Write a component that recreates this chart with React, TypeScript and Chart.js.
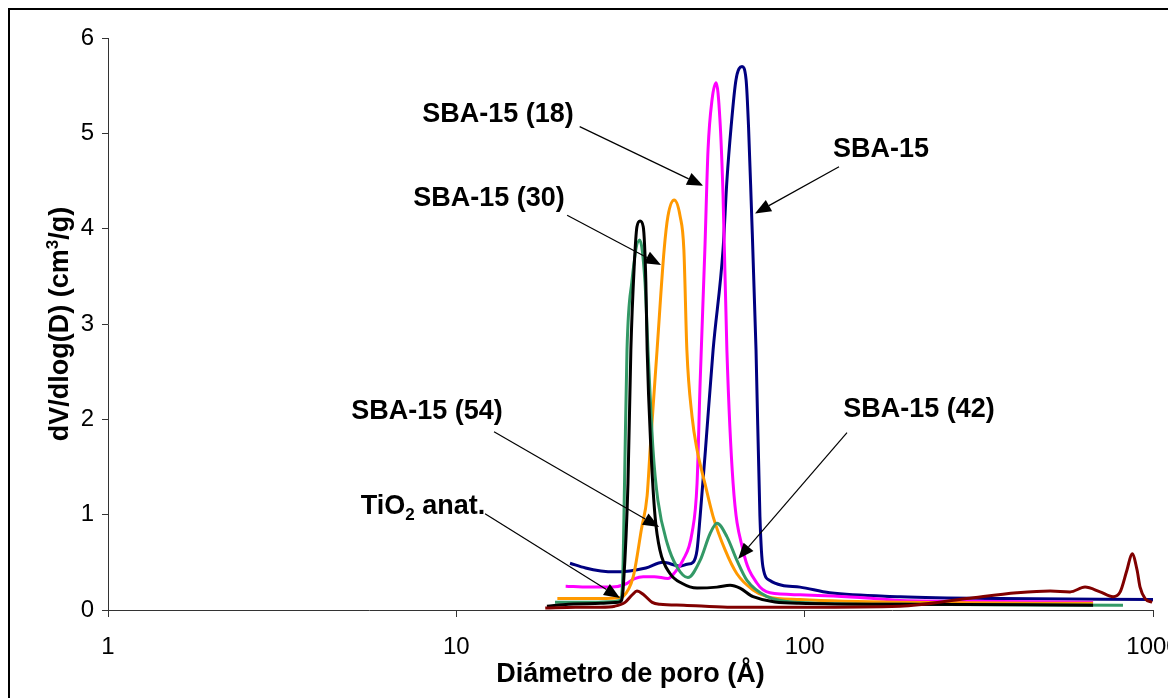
import React, { useEffect, useRef } from "react";
import { Chart, registerables } from "chart.js";

Chart.register(...registerables);

// Pore size distributions: pore diameter D (Å) and dV/dlog(D) (cm³/g)
const sba15D = [21.2, 23.5, 26, 28.5, 31.5, 35, 39.2, 43.9, 46, 47.8, 49.1, 50.1, 51.9, 54.6, 58.3, 59.8, 61.5, 63.5, 66.1, 67.9, 69.0, 70.2, 72.5, 74.4, 75.9, 79.5, 86, 97, 118, 188, 364, 1000];
const sba15V = [0.49, 0.44, 0.41, 0.40, 0.41, 0.44, 0.50, 0.46, 0.48, 0.50, 0.63, 0.98, 1.68, 2.73, 3.78, 4.50, 5.07, 5.56, 5.70, 5.56, 5.07, 4.30, 2.73, 0.98, 0.45, 0.31, 0.26, 0.24, 0.18, 0.14, 0.12, 0.11];

const sba18D = [20.6, 24, 28, 30.5, 32.5, 34.4, 37, 40.5, 42.5, 44.7, 47.5, 49.1, 50.1, 51.7, 52.8, 54.2, 55.7, 57.1, 58.3, 59.8, 62.3, 66.5, 73.0, 79.5, 97, 144, 188, 364, 673];
const sba18V = [0.25, 0.24, 0.24, 0.27, 0.33, 0.35, 0.35, 0.33, 0.40, 0.52, 0.81, 1.33, 2.38, 3.78, 4.83, 5.35, 5.53, 5.15, 4.35, 2.73, 1.33, 0.63, 0.28, 0.18, 0.16, 0.13, 0.10, 0.09, 0.08];

const sba30D = [19.5, 22, 26, 29.5, 30.1, 32.2, 34.0, 35.3, 36.0, 37.7, 39.5, 40.5, 42.2, 43.9, 45.0, 45.9, 47.5, 49.1, 51.7, 54.6, 59.1, 63.9, 71.1, 78, 97, 188, 673];
const sba30V = [0.12, 0.12, 0.12, 0.13, 0.14, 0.35, 0.85, 1.2, 1.68, 2.73, 3.78, 4.13, 4.30, 4.13, 3.78, 2.73, 2.03, 1.68, 1.33, 0.98, 0.63, 0.38, 0.21, 0.14, 0.11, 0.08, 0.07];

const sba42D = [19.2, 24, 28.5, 29.5, 30.0, 30.4, 30.9, 31.9, 33.6, 34.8, 35.5, 36.7, 37.9, 40.3, 43.0, 46.2, 50.1, 53.5, 56.0, 59.8, 63.9, 68.3, 78, 97, 188, 820];
const sba42V = [0.08, 0.08, 0.09, 0.10, 0.28, 1.33, 2.73, 3.44, 3.88, 3.44, 2.73, 1.68, 1.15, 0.70, 0.45, 0.34, 0.52, 0.80, 0.91, 0.77, 0.52, 0.31, 0.14, 0.08, 0.06, 0.05];

const sba54D = [18.2, 21, 26, 29.2, 29.8, 30.2, 31.1, 31.7, 32.4, 33.0, 33.7, 34.4, 35.0, 35.3, 36.2, 37.2, 38.4, 41.1, 44.4, 49.1, 56.0, 61.1, 65.2, 71.1, 96, 188, 673];
const sba54V = [0.04, 0.06, 0.07, 0.08, 0.10, 0.28, 1.33, 2.73, 3.60, 4.02, 4.08, 4.02, 3.44, 2.73, 1.68, 0.98, 0.63, 0.38, 0.28, 0.23, 0.24, 0.26, 0.23, 0.14, 0.07, 0.06, 0.05];

const tio2D = [18.0, 22, 26, 28.5, 30.5, 32, 33.0, 34.5, 36.5, 38.4, 45, 60, 100, 188, 292, 407, 507, 578, 638, 705, 768, 805, 842, 871, 900, 918, 949, 994];
const tio2V = [0.02, 0.03, 0.03, 0.04, 0.08, 0.16, 0.20, 0.16, 0.08, 0.06, 0.05, 0.03, 0.03, 0.04, 0.12, 0.18, 0.20, 0.19, 0.24, 0.19, 0.14, 0.19, 0.42, 0.59, 0.42, 0.24, 0.12, 0.08];

const xTickValues = [1, 10, 100, 1000];
const yTickStep = 1;

const xTitle = "Diámetro de poro (Å)";

const FONT = '"Liberation Sans", Arial, Helvetica, sans-serif';
const LABEL_SIZE = 27;

type Seg = { text: string; scale: number; dy: number };

// Callout labels: text position, arrow start and arrow tip, all in data units (D, dV/dlogD)
const callouts: { segs: Seg[]; text: [number, number]; from: [number, number]; to: [number, number] }[] = [
  { segs: [{ text: "SBA-15 (18)", scale: 1, dy: 0 }], text: [13.17, 5.22], from: [22.6, 5.07], to: [51.1, 4.45] },
  { segs: [{ text: "SBA-15", scale: 1, dy: 0 }], text: [165.7, 4.85], from: [125.5, 4.65], to: [72.0, 4.16] },
  { segs: [{ text: "SBA-15 (30)", scale: 1, dy: 0 }], text: [12.41, 4.34], from: [20.8, 4.14], to: [38.7, 3.62] },
  { segs: [{ text: "SBA-15 (54)", scale: 1, dy: 0 }], text: [8.24, 2.1], from: [12.83, 1.87], to: [38.2, 0.87] },
  { segs: [{ text: "SBA-15 (42)", scale: 1, dy: 0 }], text: [213, 2.13], from: [132.3, 1.86], to: [64.4, 0.535] },
  {
    segs: [
      { text: "TiO", scale: 1, dy: 0 },
      { text: "2", scale: 0.62, dy: 6 },
      { text: " anat.", scale: 1, dy: 0 },
    ],
    text: [8.02, 1.11],
    from: [12.09, 1.01],
    to: [29.5, 0.126],
  },
];

const yTitleSegs: Seg[] = [
  { text: "dV/dlog(D) (cm", scale: 1, dy: 0 },
  { text: "3", scale: 0.62, dy: -10 },
  { text: "/g)", scale: 1, dy: 0 },
];

function drawSegs(ctx: CanvasRenderingContext2D, segs: Seg[], cx: number, baseline: number, size: number, rotation: number) {
  ctx.save();
  ctx.translate(cx, baseline);
  ctx.rotate(rotation);
  ctx.textAlign = "left";
  ctx.textBaseline = "alphabetic";
  ctx.fillStyle = "#000";
  const widths = segs.map((s) => {
    ctx.font = `bold ${Math.round(size * s.scale)}px ${FONT}`;
    return ctx.measureText(s.text).width;
  });
  const total = widths.reduce((a, b) => a + b, 0);
  let x = -total / 2;
  segs.forEach((s, i) => {
    ctx.font = `bold ${Math.round(size * s.scale)}px ${FONT}`;
    ctx.fillText(s.text, x, s.dy);
    x += widths[i];
  });
  ctx.restore();
}

function drawArrow(ctx: CanvasRenderingContext2D, x1: number, y1: number, x2: number, y2: number) {
  const ang = Math.atan2(y2 - y1, x2 - x1);
  const len = 16;
  const half = 6.5;
  const bx = x2 - len * Math.cos(ang);
  const by = y2 - len * Math.sin(ang);
  ctx.save();
  ctx.strokeStyle = "#000";
  ctx.fillStyle = "#000";
  ctx.lineWidth = 1.2;
  ctx.beginPath();
  ctx.moveTo(x1, y1);
  ctx.lineTo(bx, by);
  ctx.stroke();
  ctx.beginPath();
  ctx.moveTo(x2, y2);
  ctx.lineTo(bx + half * Math.sin(ang), by - half * Math.cos(ang));
  ctx.lineTo(bx - half * Math.sin(ang), by + half * Math.cos(ang));
  ctx.closePath();
  ctx.fill();
  ctx.restore();
}

const overlayPlugin = {
  id: "calloutsAndTitles",
  afterDatasetsDraw(chart: any) {
    const { ctx, scales, chartArea } = chart;
    const xs = scales.x;
    const ys = scales.y;
    const capHalf = (LABEL_SIZE * 0.716) / 2;
    callouts.forEach((c) => {
      drawArrow(
        ctx,
        xs.getPixelForValue(c.from[0]),
        ys.getPixelForValue(c.from[1]),
        xs.getPixelForValue(c.to[0]),
        ys.getPixelForValue(c.to[1])
      );
      drawSegs(ctx, c.segs, xs.getPixelForValue(c.text[0]), ys.getPixelForValue(c.text[1]) + capHalf, LABEL_SIZE, 0);
    });
    const midX = (chartArea.left + chartArea.right) / 2;
    const midY = (chartArea.top + chartArea.bottom) / 2;
    drawSegs(ctx, [{ text: xTitle, scale: 1, dy: 0 }], midX, chartArea.bottom + 72, LABEL_SIZE, 0);
    ctx.save();
    ctx.translate(58, midY);
    drawSegs(ctx, yTitleSegs, 0, 0, LABEL_SIZE, -Math.PI / 2);
    ctx.restore();
  },
};

function pairs(xs: number[], ys: number[]) {
  return xs.map((x, i) => ({ x, y: ys[i] }));
}

export default function App() {
  const canvasRef = useRef<HTMLCanvasElement | null>(null);

  useEffect(() => {
    document.documentElement.style.overflow = "hidden";
    document.body.style.overflow = "hidden";
    const canvas = canvasRef.current;
    if (!canvas) return;

    const series = [
      { label: "TiO2 anat.", data: pairs(tio2D, tio2V), borderColor: "#800000" },
      { label: "SBA-15 (54)", data: pairs(sba54D, sba54V), borderColor: "#000000" },
      { label: "SBA-15 (42)", data: pairs(sba42D, sba42V), borderColor: "#339966" },
      { label: "SBA-15 (30)", data: pairs(sba30D, sba30V), borderColor: "#FF9900" },
      { label: "SBA-15 (18)", data: pairs(sba18D, sba18V), borderColor: "#FF00FF" },
      { label: "SBA-15", data: pairs(sba15D, sba15V), borderColor: "#000080" },
    ].map((d) => ({
      ...d,
      borderWidth: 3,
      pointRadius: 0,
      fill: false,
      cubicInterpolationMode: "monotone" as const,
    }));

    const tickFont = { family: FONT, size: 24 };

    const chart = new Chart(canvas, {
      type: "line",
      data: { datasets: series },
      options: {
        animation: false,
        responsive: false,
        layout: { padding: { top: 28, right: 23, left: 0, bottom: 0 } },
        plugins: { legend: { display: false }, tooltip: { enabled: false } },
        scales: {
          x: {
            type: "logarithmic",
            min: 1,
            max: 1000,
            afterBuildTicks: (scale: any) => {
              scale.ticks = xTickValues.map((v) => ({ value: v }));
            },
            afterFit: (scale: any) => {
              scale.height = 88;
              scale.paddingLeft = 0;
              scale.paddingRight = 0;
            },
            ticks: {
              callback: (v: any) => String(v),
              font: tickFont,
              color: "#000",
              padding: 16,
              maxRotation: 0,
              autoSkip: false,
            },
            grid: { drawOnChartArea: false, drawTicks: true, tickLength: 7, color: "#333" },
            border: { display: true, color: "#333", width: 1 },
          },
          y: {
            min: 0,
            max: 6,
            afterFit: (scale: any) => {
              scale.width = 98;
              scale.paddingTop = 0;
              scale.paddingBottom = 0;
            },
            ticks: { stepSize: yTickStep, font: tickFont, color: "#000", padding: 8 },
            grid: { drawOnChartArea: false, drawTicks: true, tickLength: 6, color: "#333" },
            border: { display: true, color: "#333", width: 1 },
          },
        },
      },
      plugins: [overlayPlugin],
    } as any);

    return () => chart.destroy();
  }, []);

  return (
    <div
      style={{
        width: 1168,
        height: 690,
        boxSizing: "border-box",
        borderTop: "2px solid #000",
        borderLeft: "2px solid #000",
        background: "#fff",
        overflow: "hidden",
      }}
    >
      <canvas ref={canvasRef} width={1166} height={688} style={{ display: "block" }} />
    </div>
  );
}
